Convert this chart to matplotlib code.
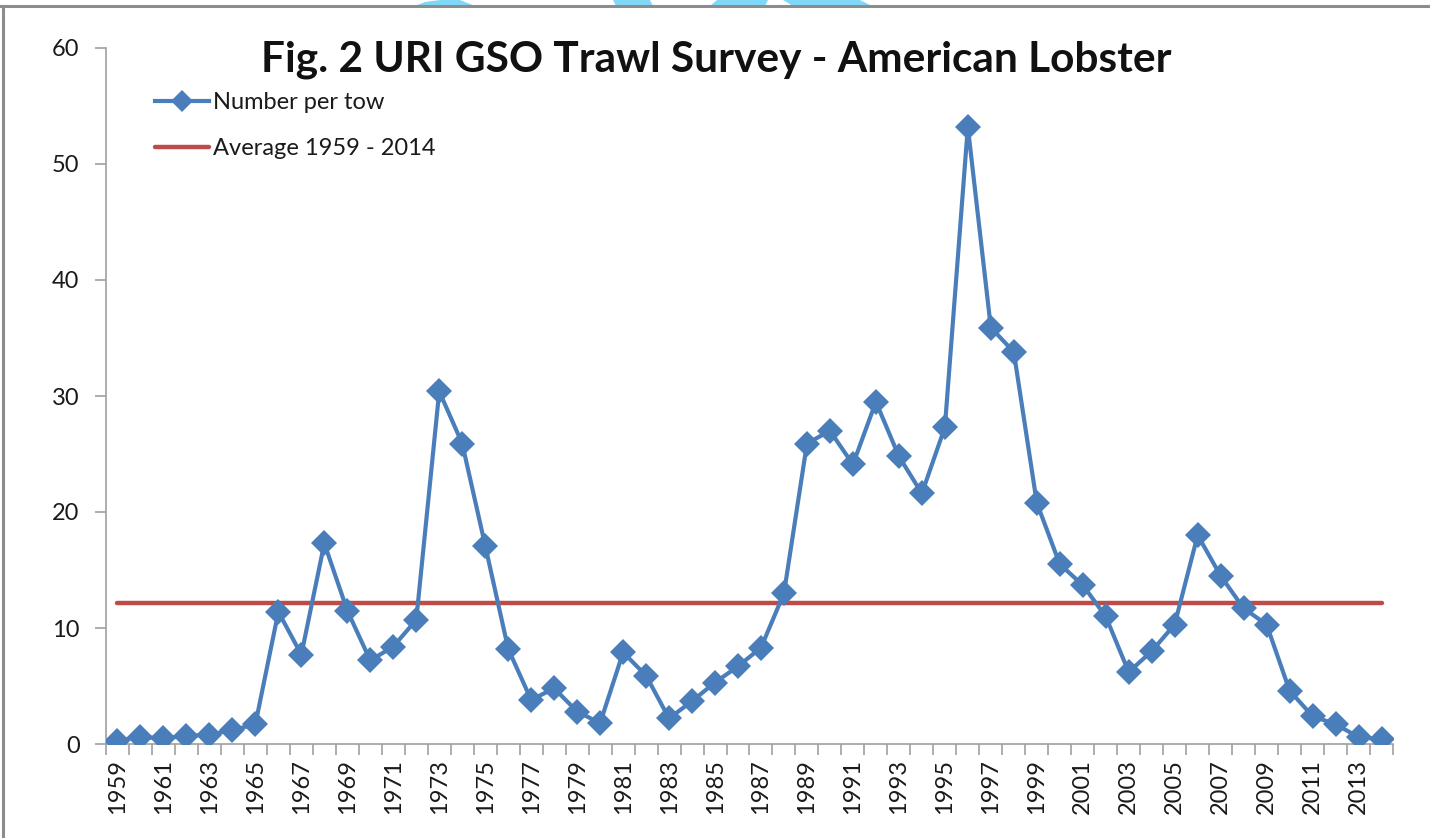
import matplotlib
matplotlib.use("Agg")
import matplotlib.pyplot as plt
from matplotlib.patches import Polygon
from matplotlib.lines import Line2D
from matplotlib.ticker import FixedLocator, NullFormatter

years = list(range(1959, 2015))
number_per_tow = [0.3, 0.6, 0.5, 0.7, 0.8, 1.2, 1.7, 11.4, 7.7, 17.3,
                  11.5, 7.2, 8.4, 10.7, 30.4, 25.9, 17.1, 8.2, 3.8, 4.8,
                  2.8, 1.8, 7.9, 5.9, 2.2, 3.7, 5.3, 6.7, 8.3, 13.0,
                  25.9, 27.0, 24.1, 29.5, 24.8, 21.6, 27.3, 53.2, 35.9, 33.8,
                  20.8, 15.5, 13.7, 11.0, 6.2, 8.0, 10.3, 18.0, 14.5, 11.7,
                  10.3, 4.6, 2.4, 1.7, 0.6, 0.4]
average = 12.15
yticks = [0, 10, 20, 30, 40, 50, 60]
title = "Fig. 2 URI GSO Trawl Survey - American Lobster"
series_labels = ["Number per tow", "Average 1959 - 2014"]

W, H = 1430, 838
fig = plt.figure(figsize=(W / 100, H / 100), dpi=100)
fig.patch.set_facecolor("white")

def fx(x):
    return x / W

def fy(y):
    return 1 - y / H

ax = fig.add_axes([fx(106), fy(744), fx(1393) - fx(106), fy(48) - fy(744)])

idx = list(range(len(years)))
ax.plot(idx, number_per_tow, color="#4A7EBB", lw=3.0, marker="D",
        markersize=13, markeredgewidth=0, solid_joinstyle="round", zorder=3)
ax.plot([idx[0], idx[-1]], [average, average], color="#BE4B48", lw=3.2,
        solid_capstyle="round", zorder=2)

ax.set_xlim(-0.5, len(years) - 0.5)
ax.set_ylim(0, 60)
ax.set_yticks(yticks)
ax.set_yticklabels([str(v) for v in yticks])

ax.xaxis.set_major_locator(FixedLocator(idx[::2]))
ax.set_xticklabels([str(y) for y in years[::2]], rotation=90)
ax.xaxis.set_minor_locator(FixedLocator([i - 0.5 for i in range(len(years) + 1)]))
ax.xaxis.set_minor_formatter(NullFormatter())

for s in ["top", "right"]:
    ax.spines[s].set_visible(False)
for s in ["left", "bottom"]:
    ax.spines[s].set_color("#A0A0A0")
    ax.spines[s].set_linewidth(1.2)

ax.tick_params(axis="y", length=8, width=1.2, color="#A0A0A0", pad=11,
               labelsize=17, labelcolor="#1a1a1a")
ax.tick_params(axis="x", which="major", length=0, pad=11, labelsize=17,
               labelcolor="#1a1a1a")
ax.tick_params(axis="x", which="minor", length=8, width=1.2, color="#A0A0A0")
for t in ax.get_xticklabels() + ax.get_yticklabels():
    t.set_family("Lato")
    t.set_fontsize(17)

fig.text(fx(716), fy(60), title, ha="center", va="center",
         fontsize=30.5, fontweight="bold", family="Lato", color="#111111")

handles = [Line2D([], [], color="#4A7EBB", lw=3.0, marker="D", markersize=11,
                  markeredgewidth=0),
           Line2D([], [], color="#BE4B48", lw=3.2, solid_capstyle="round")]
leg = ax.legend(handles, series_labels, loc="upper left",
                bbox_to_anchor=((155 - 106) / 1287, (744 - 92) / 696),
                frameon=False, borderaxespad=0, borderpad=0,
                handlelength=2.3, handletextpad=0.15, labelspacing=1.05,
                prop=dict(family="Lato", size=17))
for t in leg.get_texts():
    t.set_color("#1a1a1a")

# frame lines
fig.add_artist(Line2D([fx(0), fx(W)], [fy(6), fy(6)], color="#8C8C8C", lw=2.2,
                      transform=fig.transFigure))
fig.add_artist(Line2D([fx(3), fx(3)], [fy(6), fy(H)], color="#8C8C8C", lw=2.2,
                      transform=fig.transFigure))

# light blue decorations at the top edge
shapes = [
    [(415, 6), (425, 2), (440, 0), (460, 0), (475, 6)],
    [(613, 0), (650, 0), (653, 6), (616, 6)],
    [(717, 0), (768, 0), (765, 6), (710, 6)],
    [(783, 0), (860, 0), (872, 6), (793, 6)],
]
for pts in shapes:
    fig.add_artist(Polygon([(fx(x), fy(y)) for x, y in pts], closed=True,
                           facecolor="#80D8F8", edgecolor="none",
                           transform=fig.transFigure, zorder=0))

fig.savefig("out.png", dpi=100, facecolor="white")
